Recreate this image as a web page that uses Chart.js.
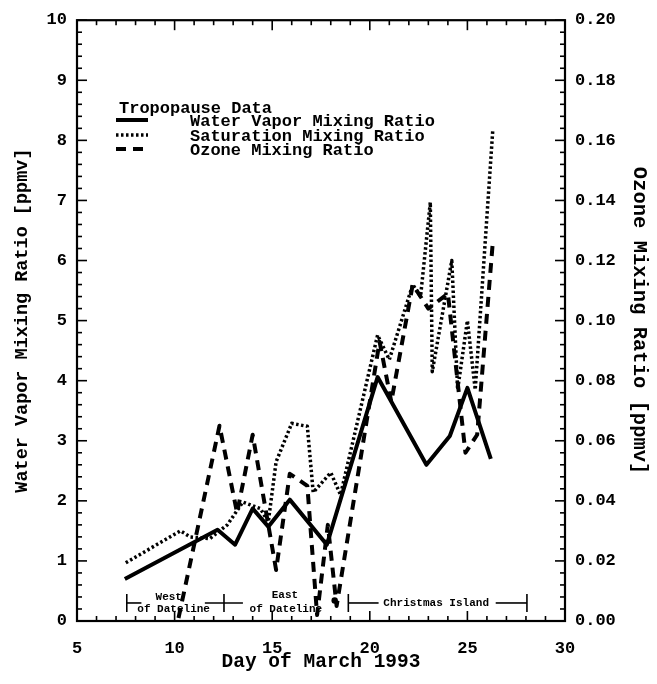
<!DOCTYPE html>
<html><head><meta charset="utf-8">
<script src="https://cdn.jsdelivr.net/npm/chart.js@4.4.1/dist/chart.umd.min.js"></script>
<style>html,body{margin:0;padding:0;background:#fff}canvas{display:block}</style>
</head><body>
<canvas id="c" width="657" height="684"></canvas>
<script>
// ---- data ----
const waterVaporDays = [7.45, 12.2, 13.1, 14.0, 14.8, 15.9, 17.8, 20.4, 22.9, 24.1, 25.0, 26.2];
const waterVaporPpmv = [0.70, 1.52, 1.27, 1.87, 1.57, 2.02, 1.27, 4.06, 2.60, 3.08, 3.88, 2.70];
const saturationDays = [7.5, 10.3, 10.8, 11.8, 12.7, 13.5, 14.4, 14.8, 15.2, 16.0, 16.8, 17.1, 18.0, 18.5, 20.4, 21.0, 22.2, 22.6, 23.1, 23.2, 24.2, 24.5, 25.0, 25.4, 26.3];
const saturationPpmv = [0.97, 1.50, 1.40, 1.37, 1.60, 1.98, 1.87, 1.65, 2.65, 3.29, 3.24, 2.14, 2.47, 2.10, 4.76, 4.35, 5.60, 5.40, 6.97, 4.15, 6.00, 3.85, 5.00, 3.85, 8.17];
const ozoneDays = [10.2, 12.3, 13.2, 14.0, 15.2, 15.9, 16.8, 17.3, 17.85, 18.3, 20.5, 21.1, 22.2, 23.0, 24.0, 24.9, 25.5, 26.3];
const ozonePpmv = [0.001, 0.065, 0.036, 0.062, 0.017, 0.049, 0.045, 0.002, 0.032, 0.005, 0.093, 0.073, 0.112, 0.104, 0.109, 0.056, 0.062, 0.126];

const xTickValues = [5, 10, 15, 20, 25, 30];
const yTickValues = [0,1,2,3,4,5,6,7,8,9,10];
const y1TickValues = [0.00,0.02,0.04,0.06,0.08,0.10,0.12,0.14,0.16,0.18,0.20];

const seriesLabels = ['Water Vapor Mixing Ratio', 'Saturation Mixing Ratio', 'Ozone Mixing Ratio'];
const legendTitle = 'Tropopause Data';

// location annotations along the bottom (day, left-axis value)
const regionTexts = [
  {text:'West', day:9.7, val:0.40},
  {text:'of Dateline', day:9.95, val:0.20},
  {text:'East', day:15.65, val:0.43},
  {text:'of Dateline', day:15.7, val:0.20},
  {text:'Christmas Island', day:23.4, val:0.30}
];
const regionSegments = [[7.55, 8.3], [11.55, 13.5], [18.9, 20.45], [26.45, 28.05]];
const regionBars = [7.55, 12.53, 18.9, 28.05];
const regionLineVal = 0.30;

const FONT = "'Liberation Mono','DejaVu Sans Mono',monospace";

const pts = (xs, ys) => xs.map((d, i) => ({x: d, y: ys[i]}));

const frameTicks = {
  id: 'frameTicks',
  afterDraw(chart) {
    const {ctx, chartArea: a, scales: {x, y, y1}} = chart;
    ctx.save();
    ctx.strokeStyle = '#000';
    const line = (x1, yA, x2, yB) => { ctx.beginPath(); ctx.moveTo(x1, yA); ctx.lineTo(x2, yB); ctx.stroke(); };
    const near = (v, s) => Math.abs(v / s - Math.round(v / s)) < 1e-6;
    ctx.lineWidth = 1.6;
    for (let i = 0; i <= 25; i++) {
      const v = 5 + i;
      const px = x.getPixelForValue(v);
      const L = near(v, 5) ? 10 : 5;
      line(px, a.bottom, px, a.bottom - L);
      line(px, a.top, px, a.top + L);
    }
    for (let i = 0; i <= 50; i++) {
      const py = y.getPixelForValue(i * 0.2);
      const L = (i % 5 === 0) ? 10 : 5;
      line(a.left, py, a.left + L, py);
    }
    for (let i = 0; i <= 50; i++) {
      const py = y1.getPixelForValue(i * 0.004);
      const L = (i % 5 === 0) ? 10 : 5;
      line(a.right, py, a.right - L, py);
    }
    ctx.lineWidth = 2.2;
    ctx.strokeRect(a.left, a.top, a.right - a.left, a.bottom - a.top);
    ctx.restore();
  }
};

const annotations = {
  id: 'annotations',
  afterDatasetsDraw(chart) {
    const {ctx, scales: {x, y}} = chart;
    ctx.save();
    ctx.strokeStyle = '#000'; ctx.fillStyle = '#000';
    ctx.lineWidth = 1.6;
    const ly = y.getPixelForValue(regionLineVal);
    regionSegments.forEach(([a, b]) => {
      ctx.beginPath(); ctx.moveTo(x.getPixelForValue(a), ly); ctx.lineTo(x.getPixelForValue(b), ly); ctx.stroke();
    });
    regionBars.forEach(d => {
      const px = x.getPixelForValue(d);
      ctx.beginPath(); ctx.moveTo(px, ly - 9); ctx.lineTo(px, ly + 9); ctx.stroke();
    });
    ctx.beginPath();
    ctx.arc(x.getPixelForValue(18.2), y.getPixelForValue(0.34), 3.2, 0, Math.PI * 2);
    ctx.fill();
    ctx.font = "bold 11px " + FONT;
    ctx.textAlign = 'center'; ctx.textBaseline = 'middle';
    regionTexts.forEach(t => ctx.fillText(t.text, x.getPixelForValue(t.day), y.getPixelForValue(t.val)));
    ctx.restore();
  }
};

const legendBox = {
  id: 'legendBox',
  afterDatasetsDraw(chart) {
    const {ctx} = chart;
    ctx.save();
    ctx.fillStyle = '#000';
    ctx.font = "bold 17px " + FONT;
    ctx.textBaseline = 'alphabetic'; ctx.textAlign = 'left';
    ctx.fillText(legendTitle, 119, 113);
    const rows = [120, 135, 149];
    chart.data.datasets.forEach((ds, i) => {
      const yy = rows[i];
      ctx.strokeStyle = '#000';
      ctx.lineWidth = ds.borderWidth;
      ctx.setLineDash(ds.borderDash || []);
      ctx.lineCap = 'butt';
      ctx.beginPath(); ctx.moveTo(116, yy); ctx.lineTo(148, yy); ctx.stroke();
      ctx.setLineDash([]);
      ctx.fillText(ds.label, 190, yy + 6);
    });
    ctx.restore();
  }
};

const tickFont = {family: FONT, size: 17, weight: 'bold'};

new Chart(document.getElementById('c'), {
  type: 'scatter',
  data: {
    datasets: [
      {label: seriesLabels[0], data: pts(waterVaporDays, waterVaporPpmv), yAxisID: 'y', showLine: true,
       borderColor: '#000', borderWidth: 4, pointRadius: 0, borderJoinStyle: 'round', tension: 0},
      {label: seriesLabels[1], data: pts(saturationDays, saturationPpmv), yAxisID: 'y', showLine: true,
       borderColor: '#000', borderWidth: 3.5, borderDash: [2.5, 2.5], pointRadius: 0, borderJoinStyle: 'round', tension: 0},
      {label: seriesLabels[2], data: pts(ozoneDays, ozonePpmv), yAxisID: 'y1', showLine: true,
       borderColor: '#000', borderWidth: 4, borderDash: [10, 7], pointRadius: 0, borderJoinStyle: 'round', tension: 0}
    ]
  },
  options: {
    responsive: false, animation: false, devicePixelRatio: 1,
    layout: {padding: {top: 10, left: 0, right: 0, bottom: 0}},
    plugins: {legend: {display: false}, tooltip: {enabled: false}},
    scales: {
      x: {
        type: 'linear', position: 'bottom', min: 5, max: 30,
        afterBuildTicks: s => { s.ticks = xTickValues.map(v => ({value: v})); },
        grid: {display: false, drawTicks: false}, border: {display: false},
        ticks: {font: tickFont, color: '#000', padding: 18, maxRotation: 0, autoSkip: false},
        title: {display: true, text: 'Day of March 1993', color: '#000',
                font: {family: FONT, size: 19.5, weight: 'bold'}, padding: {top: 0, bottom: 10}},
        afterFit: s => { s.height = 63; }
      },
      y: {
        type: 'linear', position: 'left', min: 0, max: 10,
        afterBuildTicks: s => { s.ticks = yTickValues.map(v => ({value: v})); },
        grid: {display: false, drawTicks: false}, border: {display: false},
        ticks: {font: tickFont, color: '#000', padding: 10, autoSkip: false},
        title: {display: true, text: 'Water Vapor Mixing Ratio [ppmv]', color: '#000',
                font: {family: FONT, size: 18.5, weight: 'bold'}, padding: {top: 11, bottom: 0}},
        afterFit: s => { s.width = 77; }
      },
      y1: {
        type: 'linear', position: 'right', min: 0, max: 0.2,
        afterBuildTicks: s => { s.ticks = y1TickValues.map(v => ({value: v})); },
        grid: {display: false, drawTicks: false}, border: {display: false},
        ticks: {font: tickFont, color: '#000', padding: 10, autoSkip: false, callback: v => v.toFixed(2)},
        title: {display: true, text: 'Ozone Mixing Ratio [ppmv]', color: '#000',
                font: {family: FONT, size: 20.5, weight: 'bold'}, padding: {top: 6, bottom: 0}},
        afterFit: s => { s.width = 92; }
      }
    }
  },
  plugins: [frameTicks, annotations, legendBox]
});
</script>
</body></html>
